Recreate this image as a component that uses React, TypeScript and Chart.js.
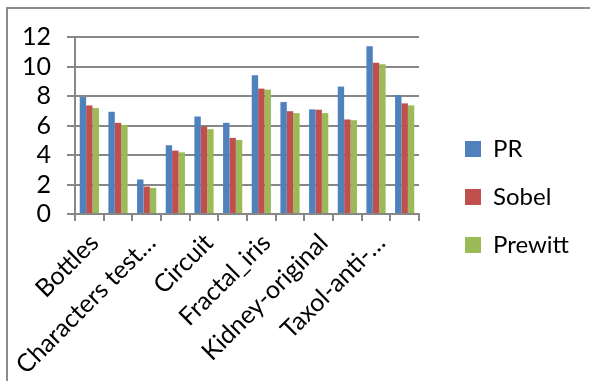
import React, { useEffect, useRef } from "react";
import { Chart, registerables } from "chart.js";

Chart.register(...registerables);

const categories = [
  "Bottles",
  "Image 2",
  "Characters test…",
  "Image 4",
  "Circuit",
  "Image 6",
  "Fractal_iris",
  "Image 8",
  "Kidney-original",
  "Image 10",
  "Taxol-anti-…",
  "Image 12",
];
const prValues = [7.93, 6.93, 2.34, 4.66, 6.61, 6.18, 9.41, 7.59, 7.09, 8.64, 11.38, 8.07];
const sobelValues = [7.36, 6.18, 1.86, 4.3, 5.93, 5.16, 8.5, 6.97, 7.07, 6.41, 10.25, 7.5];
const prewittValues = [7.18, 6.04, 1.77, 4.18, 5.75, 5.02, 8.43, 6.84, 6.84, 6.36, 10.16, 7.36];
const yTicks = [0, 2, 4, 6, 8, 10, 12];

const FONT = "Lato, 'Liberation Sans', sans-serif";
const GRID = "#878787";

export default function App() {
  const ref = useRef<HTMLCanvasElement | null>(null);
  useEffect(() => {
    if (!ref.current) return;
    const chart = new Chart(ref.current, {
      type: "bar",
      data: {
        labels: categories,
        datasets: [
          { label: "PR", data: prValues, backgroundColor: "#4F81BD" },
          { label: "Sobel", data: sobelValues, backgroundColor: "#C0504D" },
          { label: "Prewitt", data: prewittValues, backgroundColor: "#9BBB59" },
        ],
      },
      options: {
        responsive: false,
        animation: false,
        events: [],
        datasets: { bar: { categoryPercentage: 0.67, barPercentage: 1.0 } },
        layout: { padding: { left: 0, top: 23, right: 11, bottom: 10 } },
        plugins: {
          tooltip: { enabled: false },
          title: {
            display: true,
            text: " ",
            fullSize: false,
            position: "top",
            font: { size: 10, lineHeight: 1.2 },
            padding: 1,
          },
          legend: {
            position: "right",
            align: "center",
            maxWidth: 220,
            labels: {
              boxWidth: 16,
              boxHeight: 16,
              padding: 24,
              color: "#000",
              font: { family: FONT, size: 24 },
            },
          },
        },
        scales: {
          x: {
            offset: true,
            grid: {
              offset: true,
              drawOnChartArea: false,
              drawTicks: true,
              tickLength: 7,
              color: GRID,
              lineWidth: 2,
            },
            border: { display: true, color: GRID, width: 2 },
            ticks: {
              autoSkip: false,
              minRotation: 45,
              maxRotation: 45,
              padding: 7,
              labelOffset: 5,
              color: "#000",
              font: { family: FONT, size: 25 },
              callback: (_v: any, i: number) => (i % 2 === 0 ? categories[i] : ""),
            },
            afterFit: (scale: any) => {
              scale.height = 157;
            },
          },
          y: {
            min: 0,
            max: 12,
            afterBuildTicks: (scale: any) => {
              scale.ticks = yTicks.map((v) => ({ value: v }));
            },
            grid: {
              color: GRID,
              lineWidth: 2,
              drawTicks: true,
              tickLength: 8,
            },
            border: { display: true, color: GRID, width: 2 },
            ticks: {
              autoSkip: false,
              padding: 16,
              color: "#000",
              font: { family: FONT, size: 25 },
            },
            afterFit: (scale: any) => {
              scale.width = 75;
            },
          },
          gap: {
            type: "linear",
            position: "right",
            display: true,
            grid: { display: false },
            border: { display: false },
            ticks: { display: false },
            afterFit: (scale: any) => {
              scale.width = 22;
            },
          },
        },
      },
    });
    return () => chart.destroy();
  }, []);

  return (
    <div style={{ position: "absolute", left: 0, top: 0, width: 590, height: 381, overflow: "hidden", background: "#fff" }}>
      <div
        style={{
          position: "absolute",
          left: 6,
          top: 7,
          width: 640,
          height: 420,
          border: "2px solid #8c8c8c",
          boxSizing: "border-box",
        }}
      />
      <canvas ref={ref} width={590} height={381} style={{ position: "absolute", left: 0, top: 0 }} />
    </div>
  );
}
